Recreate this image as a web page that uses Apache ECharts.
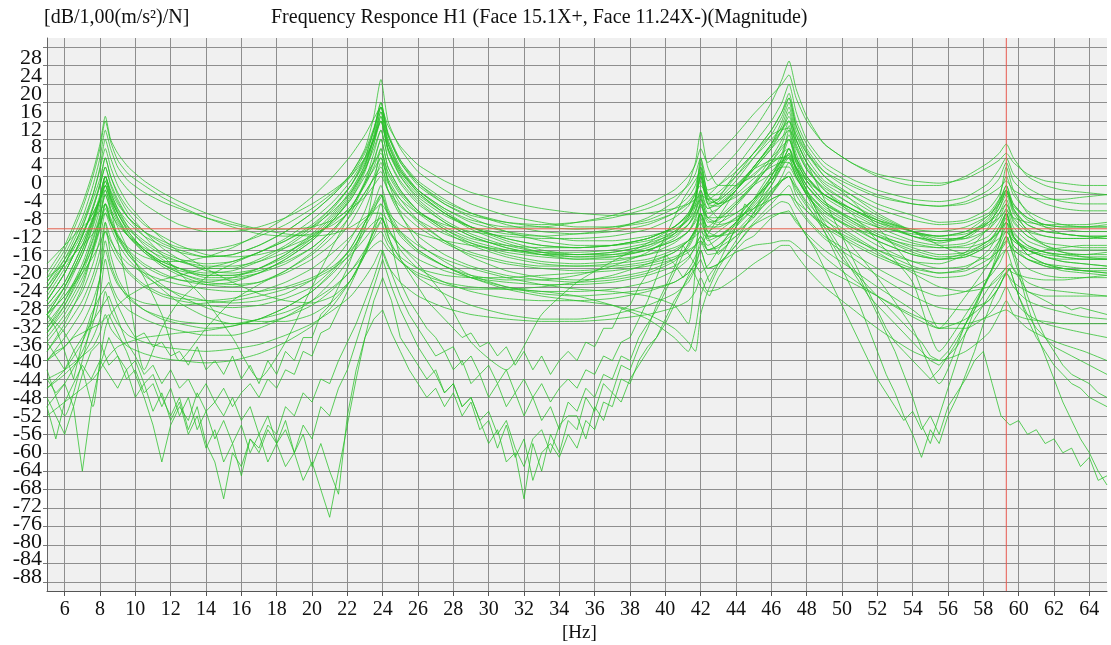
<!DOCTYPE html>
<html>
<head>
<meta charset="utf-8">
<script src="https://cdn.jsdelivr.net/npm/echarts@6/dist/echarts.min.js"></script>
<style>
html,body{margin:0;padding:0;background:#fff;}
#chart{width:1111px;height:645px;}
</style>
</head>
<body>
<div id="chart"></div>
<script>
// ---- frequency grid for the smooth curves (Hz) ----
const freqs = [5,6,7,7.6,8,8.3,8.6,9,9.6,10.5,
  11.5,12.5,14,15.5,17,18.5,20,21.2,22.2,23,
  23.5,23.9,24.3,25,26,27.5,29,31,33,35,
  37,39,40.5,41.3,41.7,42,42.4,43,44,45,
  46,46.6,47,47.4,48,49,50.5,52,54,55.5,
  57,58.3,58.9,59.3,59.7,60.5,61.5,62.5,63.7,65];

// ---- tick labels ----
const xTicks = [6,8,10,12,14,16,18,20,22,24,26,28,30,32,34,36,38,40,42,44,46,48,50,52,54,56,58,60,62,64];
const yTicks = [28,24,20,16,12,8,4,0,-4,-8,-12,-16,-20,-24,-28,-32,-36,-40,-44,-48,-52,-56,-60,-64,-68,-72,-76,-80,-84,-88];

// ---- cursor positions ----
const cursorDb = -11.4;
const cursorHz = 59.3;

// ---- smooth FRF magnitudes (dB) ----
const c01 = [-21,-15,-6,1,7,13,8,5,2,-1,
  -3.5,-5.5,-8,-10,-11.5,-12.5,-13,-12.5,-11,-9,
  -7.5,-6,-8,-10.5,-12.5,-14,-15,-16,-16.5,-16.5,
  -16,-14.5,-12.5,-10.5,-8.5,-6.5,-9.5,-10.5,-9.5,-6.5,
  -2,2,5,2,-2,-6,-9,-11,-12.5,-13,
  -12,-10,-8,-6,-9,-12,-13,-13.5,-13.5,-13];
const c02 = [-23,-17,-9,-2,4,10,6,2,-1,-3.5,
  -5.5,-7,-9,-10.5,-11.5,-11.5,-11,-9.5,-7,-4.5,
  -2,0,-3,-6.5,-9.5,-12.5,-14.5,-16.5,-17.5,-18,
  -17.5,-16,-14,-12,-10,-8,-12,-13,-12,-9,
  -4,0,3,0,-4,-8,-11,-13,-15,-15.5,
  -15.5,-14,-12,-10,-13.5,-15.5,-16.5,-17,-17,-16.5];
const c03 = [-25,-19,-11,-4,2,8,4,0,-3,-6,
  -8.5,-10.5,-12,-12,-11,-9,-6,-3,0,4,
  8,12,6,1,-3,-7,-10,-12,-13,-14,
  -14,-13,-11.5,-9.5,-7.5,-5,-9,-10,-8,-5,
  0,5,9,4,0,-4,-7,-10,-12,-13.5,
  -13.5,-11.5,-9,-6,-10,-13,-15,-16,-16,-16];
const c04 = [-28,-23,-15,-9,-4,0,-3,-6,-9,-12,
  -14,-15.5,-16,-15,-13,-10.5,-7,-3.5,0.5,6,
  13,21,12,6,1,-3,-6,-8.5,-10,-11,
  -11,-10,-8,-6,-4,-1,-5,-5,-2,2,
  7,11,15,9,4,-1,-4,-7,-9.5,-10.5,
  -10,-8,-5,-3,-6,-9,-10.5,-11,-11,-10.5];
const c05 = [-30,-24,-16,-9.5,-4.5,0,-4,-7.5,-11,-14,
  -16.5,-18,-19,-18.5,-16.5,-13.5,-9.5,-5.5,-1,4,
  10,16,9,3,-2,-6,-8.5,-10,-10.5,-10,
  -9,-7,-4.5,-2,0.5,4,-1,1,5,10,
  16,21,25,19,13,7,3,0,-2,-2,
  0,3,5,7,4,0,-2,-3,-3.5,-4];
const c06 = [-27,-21,-13,-7,-2,2,-2,-5.5,-9,-12,
  -14.5,-16,-17.5,-17,-15,-12,-8,-4,0,5,
  10,15,9,3,-1.5,-5.5,-8,-10,-11,-11.5,
  -11,-9.5,-7,-4.5,-2,2,-3,-2,1,5,
  10,14,18,12,7,2,-1.5,-4,-6,-6.5,
  -5.5,-3,-0.5,3,-1,-4,-6,-7,-7.5,-7.5];
const c07 = [-26,-20,-14,-9,-5,-2,-5,-8,-11.5,-14.5,
  -17,-18.5,-20,-20,-18,-15,-11,-6.5,-2,3,
  8.5,14,7,1,-3.5,-8,-11,-13.5,-15,-15.5,
  -15,-13.5,-11,-8,-4.5,0,-6,-5,-1,4,
  9,13,17,11,6,1,-3,-6,-8.5,-10,
  -9.5,-7,-4,0,-4,-7.5,-9.5,-10.5,-11,-11];
const c08 = [-32,-27,-20,-14,-9,-4,-7,-10,-13,-16,
  -18.5,-20,-21.5,-21.5,-20,-17,-12.5,-8,-3,2.5,
  9,15,8,2,-3,-7.5,-11,-14,-16,-17,
  -17,-16,-14,-12,-9,-6,-9,-7,-3,2,
  7,12,16,10,5,0,-4,-8,-12,-15,
  -17,-18,-14,-10,-15,-17,-16,-15.5,-15,-15];
const c09 = [-35,-30,-23,-16,-11,-6,-9,-12.5,-16,-19,
  -21,-22.5,-23.5,-23,-21,-18,-14,-9.5,-5,1,
  7,13,6,0,-5,-9.5,-12.5,-15,-16.5,-17,
  -16.5,-15,-12,-9,-5,4,-4,-6,-3,1.5,
  6,10,14,8,3,-2,-6,-9.5,-13,-14.5,
  -13,-9,-5,2,-3,-8,-11,-12.5,-13,-13.5];
const c10 = [-25,-19,-11,-5,-0.5,4,0,-3.5,-7,-10.5,
  -13,-15,-17,-17.5,-17,-15.5,-13,-10,-6.5,-2,
  2,6,0.5,-4,-8,-12,-15,-17.5,-19,-19.5,
  -19.5,-18.5,-16.5,-14,-11.5,-8,-13,-13,-10,-6,
  -1,4,10,4,-1,-5.5,-9,-12,-14.5,-15.5,
  -15,-13,-10,-7,-11,-14,-15.5,-16.5,-17,-17];
const c11 = [-30,-24,-16,-10,-5,0,-3.5,-7,-11,-15,
  -18,-20,-22,-22,-21,-19,-15.5,-11.5,-7,-1.5,
  3,8,2,-3,-7.5,-11.5,-14.5,-17,-18.5,-19,
  -18.5,-17,-14.5,-12,-9.5,-6,-10,-9.5,-6,-1.5,
  4,8,12,6.5,1.5,-3,-7,-10,-13,-14,
  -13.5,-10,-7,-4,-8,-11.5,-13,-13.5,-13.5,-13.5];
const c12 = [-29,-24,-17,-11,-6,-1,-4.5,-8,-12,-16,
  -19,-21,-23,-23.5,-23,-21,-18,-14.5,-10,-4.5,
  0,4,-1,-6,-10,-14,-16.5,-18.5,-19.5,-19.5,
  -19,-18,-16,-14,-12,-9,-14,-13,-10,-5.5,
  0,4,8,3,-2,-6.5,-10,-13,-16,-17.5,
  -17,-14.5,-11,-8,-13,-16,-17.5,-18,-18,-18];
const c13 = [-38,-32,-24,-16,-9,-3,-6,-9.5,-13,-16.5,
  -19.5,-21.5,-23.5,-24,-23,-20.5,-16.5,-12,-7,-1,
  5,10,4,-1.5,-6,-10,-13,-15.5,-17,-17.5,
  -17,-15.5,-12.5,-9,-5,2,-6,-9,-8,-5,
  -1,3,6,1,-3.5,-7.5,-11,-14,-17,-18,
  -16.5,-11,-6,-2,-7,-12,-15,-16.5,-17.5,-18];
const c14 = [-36,-31,-25,-19,-13.5,-8,-11,-14.5,-18,-21.5,
  -24,-25.5,-27,-27.5,-27,-25.5,-22.5,-18.5,-13.5,-7.5,
  -2,3,-3,-8.5,-13,-17,-19.5,-21.5,-22.5,-23,
  -22.5,-21,-18.5,-15.5,-12.5,-8,-13,-13,-10,-5.5,
  -1,2,4,0,-4,-8.5,-12.5,-16,-19.5,-21,
  -20,-16,-12,-8,-13,-17,-19,-20,-20.5,-21];
const c15 = [-40,-35,-29,-23,-18,-12,-15,-18,-21,-24,
  -26,-27,-28,-28.5,-28,-26.5,-24,-20,-15.5,-10,
  -6,-2,-7,-12,-16,-19.5,-22,-24,-25,-25,
  -24.5,-23,-20.5,-18,-15,-11,-16,-15,-11,-7,
  -3,-1,0,-4,-7.5,-11,-14.5,-17.5,-20.5,-22,
  -21.5,-19,-16,-13,-17,-20,-21.5,-22,-22,-22];
const c16 = [-30,-34,-42,-50,-40,-33,-30,-28,-26,-24,
  -22.5,-21.5,-20,-18.5,-16.5,-14,-10.5,-6.5,-2,3.5,
  8,12,6,0.5,-4,-8,-11,-13.5,-15,-15.5,
  -15,-13.5,-11,-8.5,-6,-3,-7,-6,-2.5,2,
  6.5,10,13,8,3,-1.5,-5,-8.5,-12,-14,
  -13,-10,-7,-3,-7.5,-10.5,-12,-12.5,-13,-13];
const c17 = [-24,-18,-10,-4,1.5,6,2,-2,-6,-10,
  -13.5,-16.5,-20,-23,-25.5,-27,-27.5,-26,-22.5,-17,
  -11,-6,-11,-16,-20,-23,-25,-26.5,-27,-27,
  -26.5,-25,-23,-21,-19,-16,-20,-19,-15,-10,
  -6,-3.5,-2,-5.5,-9,-13,-16.5,-20,-24,-26,
  -25,-22,-19,-16,-20,-23,-24.5,-25,-25.5,-26];
const c18 = [-27,-21,-13,-7,-2,2,-1.5,-5,-9,-13,
  -17,-21,-27,-35,-44,-36,-24,-15,-8,-1.5,
  3.5,8,2,-3,-7.5,-11.5,-14,-16,-17,-17,
  -16.5,-15,-13,-10.5,-8,-4,-9,-9,-6,-2,
  3,7,11,5,0,-4.5,-8,-11,-14,-15,
  -14.5,-11.5,-8,-5,-9.5,-13,-14.5,-15,-15.5,-15.5];
const c19 = [-34,-28,-20,-13.5,-8.5,-4,-7.5,-11,-16,-22,
  -30,-40,-33,-27,-23.5,-20.5,-17,-13,-8.5,-3.5,
  -0.5,1,-3,-7.5,-11,-14.5,-17,-19,-20,-20.5,
  -20,-19,-17.5,-16,-15,-14,-16,-15,-12,-8,
  -4,-1,1,-2,-5.5,-9.5,-13,-16.5,-21,-24,
  -25,-24,-22,-20,-21,-22,-22.5,-22.5,-22,-21.5];
const c20 = [-46,-42,-36,-30,-22,-10,-17,-22,-26,-29,
  -31,-32,-33,-32.5,-31,-28.5,-25,-20.5,-15.5,-10,
  -6.5,-4,-8,-12.5,-16,-19.5,-22,-24.5,-26,-27,
  -28,-30,-33,-36,-38,-30,-25,-20,-14,-8,
  -2,2.5,6,1.5,-3,-7.5,-11.5,-15,-18.5,-20,
  -19.5,-17,-14,-11,-15,-18,-19.5,-20,-20.5,-20.5];
const c21 = [-31,-25,-17,-10.5,-5,0,-3.5,-7,-10,-13,
  -15,-16.5,-17.5,-17,-15,-12,-8,-4,0.5,5.5,
  10.5,15,9,3.5,-1,-5,-8,-10.5,-12,-12.5,
  -12,-10.5,-8,-5.5,-3.5,-2,-4,-2,2,7,
  12,16,20,14,8,3,-0.5,-3,-5,-5.5,
  -4.5,-1.5,1.5,4,0.5,-2.5,-4.5,-5.5,-6,-6];
const c22 = [-33,-27,-19,-12.5,-7,-2,-5.5,-9,-12.5,-16,
  -18.5,-20,-21,-20.5,-18.5,-15.5,-11.5,-7,-2,4,
  10,16,9.5,3.5,-1.5,-6,-9,-12,-14,-15,
  -15,-14,-12,-9.5,-6.5,1,-4,-4,0,5,
  10,14,17,11,5.5,0,-5,-11,-20,-33,
  -26,-19,-15,-12,-14,-16,-17,-17.5,-18,-18];
const c23 = [-27,-21,-13,-6.5,-1.5,4,0,-4,-8,-12,
  -15.5,-18,-20.5,-21,-20,-17.5,-13.5,-9,-4,2,
  8,14,7.5,1.5,-3.5,-8,-11.5,-14.5,-16.5,-17.5,
  -17.5,-16,-13.5,-10.5,-7.5,-3,-8,-7,-3,2,
  7,10,12,7,2,-3,-8,-14,-23,-38,
  -30,-22,-17,-13,-16,-18,-19,-19.5,-20,-20];
const c24 = [-23,-18,-12,-8,-5,-3,-7,-14,-25,-42,
  -33,-27,-22,-19,-16.5,-14,-11,-7.5,-3.5,1.5,
  6,10,4,-1,-5.5,-10,-13,-15.5,-17,-18,
  -18,-17,-15.5,-14,-13,-12,-13.5,-12,-9,-5,
  -1,3,6,2,-2,-6,-9.5,-12.5,-15.5,-17,
  -16.5,-14,-11,-8,-12,-15,-16.5,-17,-17.5,-17.5];
const c25 = [-50,-45,-38,-32,-26,-18,-23,-26.5,-29,-31,
  -32.5,-33.5,-34.5,-34.5,-33,-30.5,-27,-22.5,-17.5,-11.5,
  -2,6,-1,-8,-14.5,-18.5,-21.5,-24,-25.5,-26,
  -25.5,-24.5,-23,-21,-18.5,-14,-17,-16.5,-13,-8.5,
  -5,-4,-4,-6.5,-9.5,-13.5,-17.5,-21.5,-26,-28.5,
  -29,-27,-24,-21,-24,-27,-28.5,-29.5,-30.5,-31];
const c26 = [-44,-42,-39,-37,-34,-30,-33,-35,-37,-38.5,
  -39.5,-40,-40.5,-40,-38.5,-36,-32.5,-28,-22.5,-16.5,
  -12,-8,-13,-18,-22,-25.5,-28,-30,-31,-31,
  -30,-28,-25.5,-23,-20,-16,-20,-19,-15,-10.5,
  -7,-5.5,-6,-9,-13,-17.5,-22,-26,-30.5,-33,
  -33,-30,-27,-24,-27,-30,-32,-33,-34,-35];
const c27 = [-19,-15,-11,-9,-7.5,-6,-8,-10.5,-13,-15.5,
  -17.5,-18.5,-19.5,-19.5,-18.5,-16.5,-13.5,-9.5,-5,0,
  3,5,1,-3.5,-7.5,-11,-13.5,-15,-15.5,-15.5,
  -15,-13.5,-11,-8,-5,0,-5,-6,-3,1.5,
  6,8.5,10,6,1.5,-2.5,-6,-9,-12,-13,
  -12,-8.5,-5.5,-2,-6,-9.5,-11,-11.5,-12,-12];
const c28 = [-38,-33,-27,-21.5,-16,-10,-13.5,-17,-20.5,-23.5,
  -25.5,-26.5,-27,-26.5,-25,-23,-20,-16.5,-13,-9.5,
  -8,-8,-9.5,-12,-15,-18,-20,-22,-23.5,-24.5,
  -25,-26,-28,-32,-20,-4,-12,-10.5,-6.5,-2,
  3,6,8,3.5,-1,-5.5,-9.5,-13,-16.5,-18,
  -17.5,-15,-12,-9,-13,-16,-17.5,-18.5,-19,-19.5];
const c29 = [-28,-23,-15,-9.5,-5,-1,-4.5,-8,-12,-16,
  -19,-21,-22.5,-22.5,-21,-18,-14,-9.5,-4.5,1.5,
  7,12,5.5,0,-4.5,-8.5,-11,-12.5,-13,-12.5,
  -11.5,-9,-5.5,-1.5,3,9.6,2,-2,-2,0.5,
  4,6.5,8,4,0,-4,-7.5,-10.5,-13,-14,
  -13,-9.5,-6,-3,-7,-10.5,-12,-12.5,-13,-13];
const c30 = [-52,-49,-46,-44,-42,-40,-38.5,-37,-36,-35,
  -34.5,-34,-33.5,-32.5,-31,-28.5,-25,-21,-16.5,-11,
  -7.5,-4,-8.5,-13,-16.5,-19.5,-21.5,-22.5,-22.5,-21.5,
  -19.5,-16.5,-12.5,-8.5,-5,0,-6,-6.5,-4,-0.5,
  2,3,3,0,-4,-9,-15,-22,-33,-45,
  -32,-22,-15,-8,-13,-17,-19,-20,-20.5,-21];
const c31 = [-34,-29,-22,-16.5,-11.5,-6,-10,-13.5,-17,-20.5,
  -23.5,-26,-28.5,-30.5,-31.5,-31.5,-30,-27,-22.5,-17,
  -13,-10,-14,-17.5,-20,-21.5,-22,-22,-21.5,-21,
  -20.5,-19.5,-18,-16.5,-15,-13,-16,-15.5,-13,-10.5,
  -8.5,-8,-8,-10,-12.5,-16,-20,-24,-29,-33,
  -31,-27,-24,-21,-23,-25,-26,-26,-26,-26];
const c32 = [-24,-19,-12.5,-8,-5,-2,-5,-9,-13,-16.5,
  -19,-20.5,-21.5,-21.5,-20.5,-18.5,-15.5,-11.5,-7,-1.5,
  1.5,4,-0.5,-5,-9.5,-14,-17.5,-20.5,-22,-22.5,
  -22,-20.5,-18,-15,-12,-8,-11,-11,-9,-7,
  -5,-4,-4,-5.5,-7.5,-10.5,-13.5,-16,-18.5,-19,
  -17,-14,-12,-10,-12.5,-15,-16.5,-17.5,-18,-18];
const c33 = [-42,-52,-40,-30,-22,-14,-19,-23,-26.5,-29,
  -30.5,-31.5,-32,-32,-31,-29.5,-27,-24,-20.5,-16,
  -13.5,-12,-15,-18.5,-21.5,-23.5,-24.5,-24.5,-24,-23,
  -21.5,-19,-16.5,-14,-11.5,-8,-11,-9,-5.5,-2,
  0.5,2,2,-0.5,-3.5,-7,-10.5,-14,-17,-18,
  -17.5,-15,-13.5,-12,-14,-16,-17.5,-18.5,-19,-19.5];
const c34 = [-30,-26,-20,-15.5,-11,-7,-10,-13,-15.5,-17.5,
  -18.5,-18.5,-17.5,-15.5,-12.5,-9,-4.5,0,4.5,9,
  12.5,15,11,6.5,2.5,-1,-3.5,-5.5,-7,-8,
  -8.5,-8,-7,-6,-5,-4,-5,-3.5,0,4,
  8,10.5,12,9,5,1,-2,-4.5,-6,-6.5,
  -6,-4,-2.5,-1,-3,-4.5,-5,-5,-4.5,-4];
const c35 = [-33,-28,-21,-15,-10,-6,-9.5,-13,-16.5,-19.5,
  -21.5,-22.5,-23,-22,-20,-17,-13,-8.5,-3.5,2.5,
  8,13,7,1.5,-3,-7,-9.5,-11,-11,-10,
  -8.5,-6,-3,0,2.5,6,3,5,9,13.5,
  17.5,20,22,17,12,7,3,0.5,-1,-1.5,
  -0.5,2,3.5,5,3,0.5,-1,-1.5,-2,-2];
const c36 = [-22,-19,-15,-12.5,-10,-8,-10,-13,-17,-21,
  -24.5,-27.5,-30.5,-32,-32,-30.5,-28,-24.5,-20.5,-17,
  -15,-14,-16,-18.5,-21,-23,-24,-24.5,-25,-26,
  -28,-31,-35,-38,-33,-26,-22,-19,-16.5,-15,
  -14.5,-14,-14,-15,-17,-20,-23,-26,-30,-32,
  -32,-30.5,-29.5,-29,-30,-31,-31.5,-32,-32,-32];
const c37 = [-22,-16,-7,0,6,12,7.5,3.5,0.5,-2,
  -4.5,-6.5,-9,-11,-12.5,-13,-12.5,-10.5,-7.5,-3.5,
  -0.5,2,-1.5,-5,-8,-10.5,-12,-13,-13.5,-13.5,
  -13,-11.5,-9,-6.5,-3.5,3,-4,-6,-4.5,-1.5,
  2.5,5,6,3,-0.5,-4,-7,-9.5,-11.5,-12,
  -11,-8.5,-6,-3.5,-6.5,-9,-10.5,-11,-11,-11];
const c38 = [-40,-37,-32,-27,-22,-16,-20,-23.5,-26,-27.5,
  -28,-28,-27.5,-27,-26,-24.5,-22.5,-20,-17,-13.5,
  -11,-9,-12,-15,-18,-20.5,-22,-23,-23.5,-23.5,
  -23,-21.5,-19.5,-17.5,-15.5,-13,-15,-13.5,-10.5,-7,
  -3.5,-1,0,-3,-6.5,-10.5,-14,-17,-20,-21,
  -20.5,-18,-16,-14,-16,-18,-19.5,-20.5,-21,-21.5];
const c39 = [-46,-43,-39,-35,-31,-25,-29,-32,-34.5,-36,
  -37,-37.5,-38,-37.5,-36.5,-34.5,-32,-29,-26,-22,
  -19,-16,-19.5,-23,-26,-28.5,-30,-31,-31.5,-31.5,
  -31,-30,-28.5,-27,-25,-22,-25,-24.5,-22,-19,
  -16.5,-15,-15,-17,-20,-24,-28.5,-33,-38,-40,
  -38,-34,-30,-27,-30,-33,-35,-36.5,-38,-40];
const c40 = [-30,-26,-21,-17.5,-14.5,-12,-14,-16.5,-19,-21,
  -22.5,-23.5,-24.5,-25,-25,-24,-22,-19.5,-16,-12,
  -10,-9,-11.5,-15,-19,-26,-36,-42,-30,-23,
  -18.5,-14.5,-11,-8.5,-6.5,-5,-7,-5.5,-2,1.5,
  3.5,4,4,2,-1,-4,-7,-9.5,-12,-13,
  -12.5,-10.5,-9,-7.5,-9,-10,-10.5,-10.5,-10.5,-10];

// ---- noisy low-coherence curves, on a 0.5 Hz grid (5 ... 65 Hz) ----
const n01 = [-44,-47,-45,-50,-43,-38,-36,-41,-39,-44,-42,-47,-45,-50,-46,-52,-48,-55,-51,-57,
  -53,-58,-54,-60,-56,-62,-58,-63,-60,-66,-62,-68,-74,-64,-54,-44,-35,-27,-22,-27,
  -35,-38,-41,-44,-42,-47,-45,-50,-48,-53,-51,-56,-53,-59,-63,-57,-55,-60,-54,-52,
  -52,-57,-50,-53,-47,-49,-44,-41,-38,-35,-31,-27,-24,-21,-18,-23,-19,-15,-11,-8,
  -9,-6,-3,-1,0,-3,-6,-9,-12,-15,-18,-20,-22,-24,-26,-28,-30,-32,-34,-36,
  -39,-40,-38,-35,-32,-29,-26,-23,-21,-19,-22,-25,-26,-27,-28,-28,-29,-28.5,-29,-29.5,-30];
const n02 = [-48,-52,-56,-50,-64,-50,-41,-35,-39,-42,-40,-45,-43,-48,-52,-48,-55,-50,-58,-62,
  -70,-60,-63,-57,-59,-54,-56,-50,-52,-47,-49,-44,-45,-40,-36,-32,-27,-22,-16,-21,
  -26,-30,-33,-36,-39,-38,-42,-40,-45,-43,-48,-45,-50,-47,-52,-48,-53,-50,-55,-49,
  -51,-46,-48,-43,-44,-39,-40,-35,-32,-29,-25,-21,-17,-13,-10,-14,-17,-15,-11,-6,
  -8,-4,0,3,5,1,-3,-7,-10,-13,-16,-19,-22,-26,-30,-34,-38,-43,-48,-54,
  -58,-52,-46,-40,-34,-29,-24,-20,-17,-15,-21,-28,-34,-39,-44,-49,-53,-57,-60,-64,-67];
const n03 = [-40,-38,-37,-35,-34,-33,-32,-30,-34,-38,-43,-48,-54,-62,-54,-50,-53,-47,-51,-49,
  -52,-48,-53,-50,-56,-52,-58,-55,-60,-54,-57,-50,-52,-46,-42,-36,-30,-24,-18,-24,
  -29,-33,-37,-40,-43,-47,-45,-50,-48,-53,-58,-55,-62,-60,-70,-58,-64,-56,-60,-53,
  -55,-48,-51,-45,-47,-41,-42,-37,-33,-28,-24,-20,-15,-18,-21,-19,-16,-13,-10,-7,
  -5,-2,1,3,4,0,-4,-8,-12,-16,-20,-24,-28,-33,-38,-43,-47,-52,-56,-61,
  -55,-58,-52,-48,-43,-38,-32,-27,-23,-20,-26,-31,-35,-38,-41,-43,-45,-46,-48,-49,-50];
const n04 = [-50,-57,-49,-45,-41,-44,-40,-43,-46,-42,-48,-45,-51,-47,-53,-49,-56,-52,-59,-55,
  -62,-58,-65,-57,-60,-55,-58,-53,-60,-56,-63,-58,-64,-69,-52,-42,-35,-31,-29,-34,
  -38,-42,-45,-48,-46,-50,-47,-52,-49,-55,-53,-59,-54,-61,-57,-66,-60,-58,-61,-56,
  -59,-53,-55,-49,-50,-44,-45,-40,-37,-35,-32,-28,-24,-20,-24,-26,-22,-19,-16,-14,
  -13,-11,-9,-8,-7.5,-10,-13,-16,-20,-24,-28,-32,-36,-40,-44,-47,-50,-53,-51,-55,
  -52,-56,-50,-47,-44,-40,-38,-45,-52,-54,-53,-56,-55,-58,-57,-60,-59,-63,-61,-66,-65];
const n05 = [-36,-39,-42,-38,-35,-32,-29,-26,-31,-36,-39,-43,-41,-45,-42,-46,-44,-48,-45,-49,
  -46,-50,-47,-45,-48,-44,-46,-42,-43,-38,-39,-34,-33,-29,-25,-21,-16,-12,-9,-15,
  -23,-27,-30,-33,-35,-38,-37,-41,-39,-43,-41,-45,-42,-47,-44,-48,-45,-49,-46,-44,
  -46,-42,-43,-39,-40,-36,-35,-31,-27,-22,-17,-19,-22,-19,-15,-12,-9,-6,-3,-1,
  0,2,3,4,4.5,1,-3,-7,-11,-14,-17,-20,-23,-26,-28,-30,-32,-34,-36,-38,
  -40,-41,-39,-37,-34,-31,-28,-25,-22,-20,-26,-30,-33,-35,-37,-38,-39,-40,-41,-42,-43];
const n06 = [-30,-33,-38,-44,-36,-30,-26,-23,-28,-32,-35,-34,-37,-36,-39,-38,-41,-37,-42,-40,
  -43,-39,-44,-41,-45,-40,-43,-38,-40,-35,-35,-30,-28,-24,-20,-15,-10,-7,-4,-10,
  -18,-21,-24,-27,-29,-31,-33,-35,-34,-37,-36,-39,-37,-41,-38,-42,-39,-43,-40,-38,
  -40,-36,-37,-33,-33,-29,-28,-24,-21,-17,-13,-9,-5,-2,1,-6,-5,-2,1,3,
  5,7,9,10,10.5,7,3,-1,-5,-9,-13,-17,-21,-25,-29,-33,-36,-38,-40,-42,
  -44,-42,-39,-36,-32,-28,-24,-20,-16,-13,-20,-26,-31,-35,-38,-41,-43,-44,-45,-47,-48];

const smoothCurves = [c01,c02,c03,c04,c05,c06,c07,c08,c09,c10,c11,c12,c13,c14,c15,c16,c17,c18,c19,c20,
  c21,c22,c23,c24,c25,c26,c27,c28,c29,c30,c31,c32,c33,c34,c35,c36,c37,c38,c39,c40];
const noisyCurves = [n01,n02,n03,n04,n05,n06];
const noisyFreqs = [];
for (let k = 0; k <= 120; k++) noisyFreqs.push(5 + k * 0.5);

// the y labels are split over two label-only axes so that none is hidden as overlapping
const yTicksA = yTicks.filter((v, i) => i % 2 === 0);
const yTicksB = yTicks.filter((v, i) => i % 2 === 1);

// ---- build chart ----
const FONT = 'Liberation Serif';
const lineColor = 'rgba(40,192,40,0.75)';
const series = [];
smoothCurves.forEach((c) => {
  series.push({
    type: 'line', xAxisIndex: 0, yAxisIndex: 0, symbol: 'none', silent: true,
    smooth: 0.2,
    data: freqs.map((f, j) => [f, c[j]]),
    lineStyle: { color: lineColor, width: 1 }, animation: false, z: 3
  });
});
noisyCurves.forEach((c) => {
  series.push({
    type: 'line', xAxisIndex: 0, yAxisIndex: 0, symbol: 'none', silent: true,
    data: noisyFreqs.map((f, j) => [f, c[j]]),
    lineStyle: { color: lineColor, width: 1 }, animation: false, z: 3
  });
});
// cursor lines (drawn through the axes' scales)
series.push({
  type: 'line', xAxisIndex: 0, yAxisIndex: 0, symbol: 'none', silent: true, animation: false, z: 4,
  data: [[5, cursorDb], [65, cursorDb]],
  lineStyle: { color: '#e5604e', width: 1 }
});
series.push({
  type: 'line', xAxisIndex: 0, yAxisIndex: 0, symbol: 'none', silent: true, animation: false, z: 4,
  data: [[cursorHz, -90], [cursorHz, 30]],
  lineStyle: { color: '#e8584f', width: 1 }
});

function labelAxis(values) {
  return {
    type: 'value', min: -91, max: 32.5, position: 'left',
    axisLine: { show: false }, axisTick: { show: false }, splitLine: { show: false },
    axisLabel: { customValues: values, fontFamily: FONT, fontSize: 22, color: '#111', margin: 5,
      showMinLabel: true, showMaxLabel: true, hideOverlap: false }
  };
}

const chart = echarts.init(document.getElementById('chart'), null, { renderer: 'canvas' });
chart.setOption({
  backgroundColor: '#ffffff',
  animation: false,
  textStyle: { fontFamily: FONT },
  title: [
    { text: '[dB/1,00(m/s²)/N]', left: 39, top: 3, textStyle: { fontFamily: FONT, fontWeight: 'normal', fontSize: 20, color: '#111' } },
    { text: 'Frequency Responce H1 (Face 15.1X+, Face 11.24X-)(Magnitude)', left: 266, top: 3, textStyle: { fontFamily: FONT, fontWeight: 'normal', fontSize: 20, color: '#111' } },
    { text: '[Hz]', left: 557, top: 619, textStyle: { fontFamily: FONT, fontWeight: 'normal', fontSize: 19, color: '#111' } }
  ],
  grid: { left: 47, right: 4, top: 38, bottom: 54, show: true, backgroundColor: '#f0f0f0', borderWidth: 0 },
  xAxis: [{
    type: 'value', min: 5, max: 65,
    axisLine: { show: true, onZero: false, lineStyle: { color: '#555', width: 1 } },
    axisTick: { show: true, customValues: xTicks, length: 5, lineStyle: { color: '#555' } },
    axisLabel: { customValues: xTicks, fontFamily: FONT, fontSize: 20, color: '#111', margin: 9, showMinLabel: true, showMaxLabel: true },
    splitLine: { show: true, lineStyle: { color: '#8e8e8e', width: 1 } }
  }],
  yAxis: [{
    type: 'value', min: -90, max: 30, position: 'left',
    axisLine: { show: true, onZero: false, lineStyle: { color: '#666', width: 1 } },
    axisTick: { show: true, customValues: yTicks, length: 4, lineStyle: { color: '#777' } },
    axisLabel: { show: false, customValues: yTicks },
    splitLine: { show: true, lineStyle: { color: '#8e8e8e', width: 1 } }
  }, labelAxis(yTicksA), labelAxis(yTicksB)],
  series: series
});
</script>
</body>
</html>
